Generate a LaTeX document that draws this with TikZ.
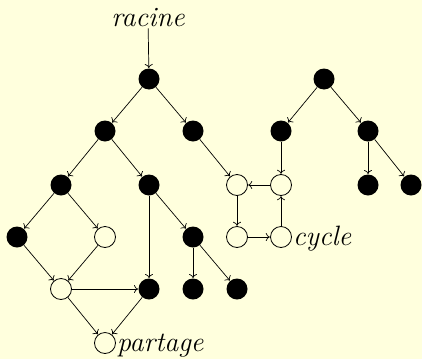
\documentclass[tikz,border=0pt]{standalone}
\usetikzlibrary{arrows.meta}
\definecolor{paper}{RGB}{255,255,221}
\begin{document}
\begin{tikzpicture}[x=1pt,y=-1pt,
  full/.style={circle,fill=black,inner sep=0pt,minimum size=21pt},
  hollow/.style={circle,draw=black,line width=0.8pt,inner sep=0pt,minimum size=21pt},
  lbl/.style={font=\fontsize{28}{32}\selectfont\itshape,inner sep=1pt},
  edge/.style={-{To[length=4pt,width=8pt]},line width=0.7pt,shorten >=0.3pt}]
  \fill[paper] (0,0) rectangle (422,359);
  \useasboundingbox (0,0) rectangle (422,359);

  % left tree
  \node[lbl] (root) at (148,18) {racine};
  \node[full] (a) at (149,79) {};
  \node[full] (b) at (105,131) {};
  \node[full] (c) at (193,131) {};
  \node[full] (d) at (61,185) {};
  \node[full] (e) at (149,185) {};
  \node[full] (f) at (17,237) {};
  \node[hollow] (g) at (105,237) {};
  \node[full] (j) at (193,237) {};
  \node[hollow] (h) at (61,289) {};
  \node[full] (i) at (149,289) {};
  \node[full] (k) at (193,289) {};
  \node[full] (l) at (237,289) {};
  \node[hollow] (p) at (105,343) {};
  \node[lbl,anchor=west] (pl) at ([yshift=-3pt]p.east) {partage};

  % cycle
  \node[hollow] (m) at (237,185) {};
  \node[hollow] (q) at (281,185) {};
  \node[hollow] (n) at (237,237) {};
  \node[hollow] (o) at (281,237) {};
  \node[lbl,anchor=west] (cl) at ([yshift=-2pt]o.east) {cycle};

  % right tree
  \node[full] (r) at (324,79) {};
  \node[full] (s) at (281,131) {};
  \node[full] (t) at (368,131) {};
  \node[full] (u) at (368,185) {};
  \node[full] (v) at (411,185) {};

  \draw[edge] (root) -- (a);
  \draw[edge] (a) -- (b);
  \draw[edge] (a) -- (c);
  \draw[edge] (b) -- (d);
  \draw[edge] (b) -- (e);
  \draw[edge] (d) -- (f);
  \draw[edge] (d) -- (g);
  \draw[edge] (f) -- (h);
  \draw[edge] (g) -- (h);
  \draw[edge] (h) -- (i);
  \draw[edge] (h) -- (p);
  \draw[edge] (i) -- (p);
  \draw[edge] (e) -- (i);
  \draw[edge] (e) -- (j);
  \draw[edge] (j) -- (k);
  \draw[edge] (j) -- (l);
  \draw[edge] (c) -- (m);
  \draw[edge] (m) -- (n);
  \draw[edge] (n) -- (o);
  \draw[edge] (o) -- (q);
  \draw[edge] (q) -- (m);
  \draw[edge] (r) -- (s);
  \draw[edge] (r) -- (t);
  \draw[edge] (s) -- (q);
  \draw[edge] (t) -- (u);
  \draw[edge] (t) -- (v);
\end{tikzpicture}
\end{document}
